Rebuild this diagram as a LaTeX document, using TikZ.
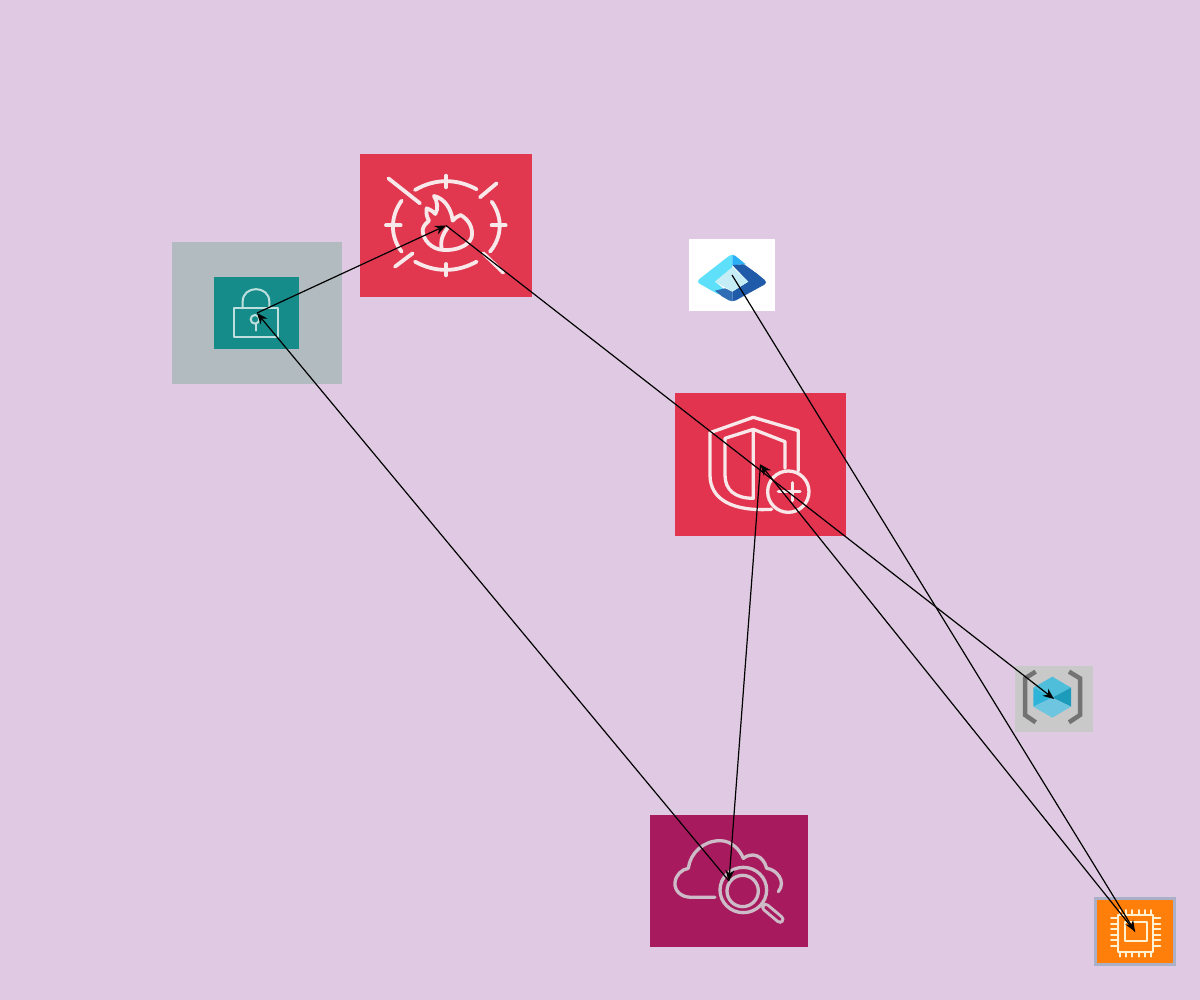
\documentclass[tikz,border=0pt]{standalone}
\usetikzlibrary{arrows.meta}
\definecolor{bgc}{HTML}{E0CAE3}
\definecolor{redA}{HTML}{E13850}
\definecolor{redB}{HTML}{E3344F}
\definecolor{lockbg}{HTML}{B2BBC0}
\definecolor{teal}{HTML}{168C8A}
\definecolor{plum}{HTML}{A71B5E}
\definecolor{plumline}{HTML}{CDBBC8}
\definecolor{orng}{HTML}{FF7F0A}
\definecolor{cubebg}{HTML}{C9C9C9}
\definecolor{chipb}{HTML}{A9B0C8}
\definecolor{softw}{HTML}{F8E8EA}
\definecolor{chipline}{HTML}{FFF0D0}
\definecolor{cubeT}{HTML}{4FBEDB}
\definecolor{cubeL}{HTML}{2FB4D9}
\definecolor{cubeR}{HTML}{1C9BBB}
\definecolor{cubeB}{HTML}{6EC5DF}
\definecolor{azA}{HTML}{5FE0FA}
\definecolor{azB}{HTML}{2CB0F5}
\definecolor{azC}{HTML}{1F5BA8}
\definecolor{azD}{HTML}{2F6DB5}
\definecolor{azE}{HTML}{C5EDF5}
\tikzset{
  iconbox/.style={draw=none,inner sep=0pt,outer sep=0pt,anchor=center},
  link/.style={draw=black,line width=1.2pt,-{Stealth[length=11pt,width=9pt]}},
  zoomed/.style={x=0.3333pt,y=-0.3333pt,line cap=round,line join=round},
}
\begin{document}
\begin{tikzpicture}[x=1pt,y=-1pt]
\useasboundingbox (0,0) rectangle (1200,1000);
\fill[bgc] (0,0) rectangle (1200,1000);
% boxes
\node[iconbox,fill=redA,minimum width=172pt,minimum height=143pt] (fire) at (446,225.5) {};
\node[iconbox,fill=lockbg,minimum width=170pt,minimum height=142pt] (lock) at (257,313) {};
\node[iconbox,fill=white,minimum width=86pt,minimum height=72pt] (azure) at (732,275) {};
\node[iconbox,fill=redB,minimum width=171pt,minimum height=143pt] (shield) at (760.5,464.5) {};
\node[iconbox,fill=cubebg,minimum width=78pt,minimum height=66pt] (cube) at (1054,699) {};
\node[iconbox,fill=plum,minimum width=158pt,minimum height=132pt] (search) at (729,881) {};
\node[iconbox,fill=orng,draw=chipb,line width=2.5pt,minimum width=79pt,minimum height=66pt] (chip) at (1135,931.5) {};
% fire icon
\begin{scope}[shift={(360,150)},zoomed,draw=softw,line width=3.8pt]
  \draw (165,120) .. controls (225,85) and (290,85) .. (350,118);
  \draw (125,152) .. controls (90,200) and (90,260) .. (125,305);
  \draw (395,155) .. controls (428,200) and (428,260) .. (390,305);
  \draw (165,335) .. controls (225,368) and (290,368) .. (350,335);
  \draw (258,77) -- (258,112);
  \draw (258,342) -- (258,376);
  \draw (78,226) -- (122,226);
  \draw (395,226) -- (437,226);
  \draw (85,85) -- (180,160);
  \draw (360,142) -- (410,100);
  \draw (105,350) -- (158,310);
  \draw (370,310) -- (430,368);
  \draw (222,138) .. controls (255,145) and (275,180) .. (278,212)
     .. controls (285,205) and (292,198) .. (302,195)
     .. controls (328,210) and (340,235) .. (335,262)
     .. controls (325,290) and (285,302) .. (250,300)
     .. controls (215,298) and (188,270) .. (188,240)
     .. controls (190,225) and (200,220) .. (207,212)
     .. controls (200,200) and (198,190) .. (200,175)
     .. controls (210,178) and (220,185) .. (226,192)
     .. controls (236,175) and (232,155) .. (222,138) -- cycle;
  \draw (245,296) .. controls (240,270) and (250,250) .. (262,235);
\end{scope}
% lock icon
\fill[teal] (214,277) rectangle (299,349);
\begin{scope}[shift={(170,240)},zoomed,draw=white!72!teal,line width=2pt]
  \draw (192,205) rectangle (325,292);
  \draw (218,205) -- (218,185) .. controls (218,135) and (298,135) .. (298,185) -- (298,205);
  \draw (255,238) circle[radius=13];
  \draw (258,251) -- (258,272);
\end{scope}
% azure icon
\begin{scope}[shift={(680,230)},zoomed]
  \clip[rounded corners=4pt] (48,155) -- (157,70) -- (264,158) -- (157,217) -- cycle;
  \fill[azA] (40,155) -- (157,60) -- (157,112) -- (105,155) -- (135,180) -- (110,195) -- cycle;
  \fill[azB] (157,60) -- (200,103) -- (157,105) -- cycle;
  \fill[azC] (157,105) -- (192,103) -- (270,158) -- (157,225) -- (157,185) -- (205,155) -- cycle;
  \fill[azD] (105,182) -- (135,175) -- (157,185) -- (157,225) -- cycle;
  \fill[azE] (105,155) -- (157,112) -- (205,155) -- (157,185) -- cycle;
\end{scope}
% shield icon
\begin{scope}[shift={(670,390)},zoomed,draw=softw,line width=3.3pt]
  \draw (385,243) -- (385,122) -- (250,82) -- (120,128) -- (120,255)
     .. controls (120,330) and (190,365) .. (305,358);
  \draw (345,235) -- (345,155) -- (250,118) -- (165,145) -- (165,255)
     .. controls (165,300) and (195,325) .. (250,325) -- (250,118);
  \draw (355,305) circle[radius=62];
  \draw (325,305) -- (390,305);
  \draw (368,278) -- (368,332);
\end{scope}
% cube icon
\begin{scope}[shift={(1005,655)},zoomed]
  \draw[color=black!55,line width=4.5pt,line cap=butt,line join=miter] (92,50) -- (60,70) -- (60,180) -- (92,202);
  \draw[color=black!55,line width=4.5pt,line cap=butt,line join=miter] (192,50) -- (225,70) -- (225,180) -- (192,202);
  \fill[cubeT] (142,65) -- (198,98) -- (142,128) -- (85,98) -- cycle;
  \fill[cubeL] (85,98) -- (142,128) -- (85,155) -- cycle;
  \fill[cubeR] (198,98) -- (198,155) -- (142,128) -- cycle;
  \fill[cubeB] (85,155) -- (142,128) -- (198,155) -- (142,188) -- cycle;
\end{scope}
% search icon
\begin{scope}[shift={(645,810)},zoomed,draw=plumline,line width=3.3pt]
  \draw (210,262) -- (140,262) .. controls (105,262) and (88,240) .. (90,218)
     .. controls (92,195) and (110,178) .. (130,175)
     .. controls (135,130) and (175,92) .. (225,92)
     .. controls (260,92) and (285,120) .. (295,145)
     .. controls (320,125) and (355,135) .. (365,175)
     .. controls (395,178) and (425,215) .. (400,245);
  \draw (295,240) circle[x radius=70,y radius=68];
  \draw (293,243) circle[radius=47];
  \draw[line width=9pt] (362,292) -- (405,328);
  \draw[color=plum,line width=3pt] (362,292) -- (405,328);
\end{scope}
% chip icon
\begin{scope}[shift={(1085,890)},zoomed,draw=chipline,line width=2pt]
  \draw (100,75) rectangle (205,185);
  \draw (120,97) rectangle (185,152);
  \foreach \p in {105,124,142,161,180,198} {
    \draw (\p,60) -- (\p,75);
    \draw (\p,185) -- (\p,200);
  }
  \foreach \p in {85,102,118,135,151,167} {
    \draw (78,\p) -- (100,\p);
    \draw (205,\p) -- (226,\p);
  }
\end{scope}
% connectors
\draw[link] (azure.center) -- (chip.center);
\draw[link] (chip.center) -- (shield.center);
\draw[link] (shield.center) -- (search.center);
\draw[link] (search.center) -- (lock.center);
\draw[link] (lock.center) -- (fire.center);
\draw[link] (fire.center) -- (cube.center);
\end{tikzpicture}
\end{document}
